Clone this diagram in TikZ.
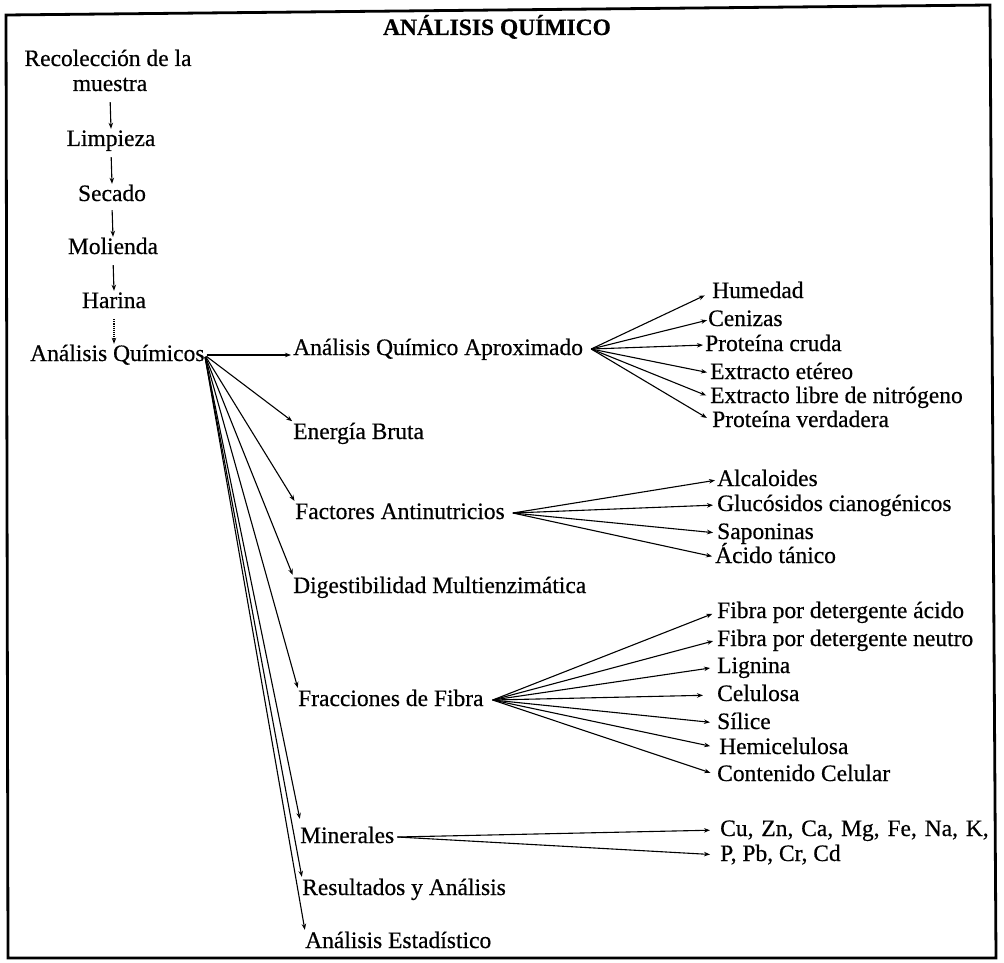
\documentclass[tikz,border=0pt]{standalone}
\usepackage{fontspec}
\setmainfont[FakeBold=0.5]{Liberation Serif}
\usetikzlibrary{arrows.meta}
\begin{document}
\begin{tikzpicture}[x=1pt,y=-1pt,
  lbl/.style={inner sep=0pt, font=\fontsize{23.5}{26}\selectfont, text height=17pt, text depth=5pt},
  item/.style={lbl, anchor=west},
  col/.style={lbl, anchor=center},
  arr/.style={line width=1.1pt, -{Stealth[length=6pt,width=4.5pt]}},
  frame/.style={line width=2.8pt, line join=miter}
]
\useasboundingbox (0,0) rectangle (1004,963);

% outer frame
\draw[frame] (6,15) -- (990,5) -- (996,958) -- (8,958) -- cycle;

% title
\node[col, font=\fontsize{23.5}{26}\selectfont\bfseries] (title) at (497,29) {ANÁLISIS QUÍMICO};

% sample preparation column
\node[col] (rec1) at (108,60) {Recolección de la};
\node[col] (rec2) at (110,85) {muestra};
\node[col] (limp) at (111,140) {Limpieza};
\node[col] (sec)  at (112,195) {Secado};
\node[col] (mol)  at (113,248) {Molienda};
\node[col] (har)  at (114,302) {Harina};
\node[item] (aq)  at (30,355) {Análisis Químicos};

\draw[arr, shorten <=6pt] (rec2.south) -- (limp.north);
\draw[arr, shorten <=6pt] (limp.south) -- (sec.north);
\draw[arr, shorten <=4pt] (sec.south) -- (mol.north);
\draw[arr, shorten <=6pt] (mol.south) -- (har.north);
\draw[arr, densely dotted, shorten <=6pt] (har.south) -- (har.south |- aq.north);

% analyses
\node[item] (aqa) at (293,349) {Análisis Químico Aproximado};
\node[item] (eb)  at (293,433) {Energía Bruta};
\node[item] (fa)  at (295,513) {Factores Antinutricios};
\node[item] (dm)  at (293,587) {Digestibilidad Multienzimática};
\node[item] (ff)  at (298,700) {Fracciones de Fibra};
\node[item] (min) at (300,837) {Minerales};
\node[item] (res) at (302,889) {Resultados y Análisis};
\node[item] (est) at (305,942) {Análisis Estadístico};

\draw[arr, shorten <=2pt, shorten >=2pt] (aq.east) -- (aq.east -| aqa.west);
\foreach \t in {eb,fa,dm,ff,res,est}
  \draw[arr, shorten <=2pt, shorten >=1pt] (aq.east) -- (\t.north west);
\draw[arr, shorten <=2pt, shorten >=1pt] (aq.east) -- ([yshift=6pt]min.north west);

% proximate analysis
\node[item] (hum) at (712,292) {Humedad};
\node[item] (cen) at (708,320) {Cenizas};
\node[item] (pc)  at (705,345) {Proteína cruda};
\node[item] (ee)  at (710,373) {Extracto etéreo};
\node[item] (el)  at (710,397) {Extracto libre de nitrógeno};
\node[item] (pv)  at (712,421) {Proteína verdadera};
\coordinate (aqaf) at ([xshift=8pt]aqa.east);
\draw[arr, shorten >=8pt] (aqaf) -- (hum.west);
\draw[arr, shorten >=1pt] (aqaf) -- (cen.west);
\draw[arr, shorten >=2pt] (aqaf) -- (pc.west);
\draw[arr, shorten >=3pt] (aqaf) -- (ee.west);
\draw[arr, shorten >=4pt] (aqaf) -- (el.west);
\draw[arr, shorten >=6pt] (aqaf) -- (pv.west);

% antinutritional factors
\node[item] (alc) at (717,480) {Alcaloides};
\node[item] (glu) at (717,505) {Glucósidos cianogénicos};
\node[item] (sap) at (717,533) {Saponinas};
\node[item] (act) at (715,557) {Ácido tánico};
\coordinate (faf) at ([xshift=8pt]fa.east);
\draw[arr, shorten >=2pt] (faf) -- (alc.west);
\draw[arr, shorten >=4pt] (faf) -- (glu.west);
\draw[arr, shorten >=4pt] (faf) -- (sap.west);
\draw[arr, shorten >=3pt] (faf) -- (act.west);

% fibre fractions
\node[item] (fda) at (717,612) {Fibra por detergente ácido};
\node[item] (fdn) at (717,640) {Fibra por detergente neutro};
\node[item] (lig) at (717,667) {Lignina};
\node[item] (cel) at (717,695) {Celulosa};
\node[item] (sil) at (717,723) {Sílice};
\node[item] (hem) at (719,748) {Hemicelulosa};
\node[item] (cc)  at (717,775) {Contenido Celular};
\coordinate (fff) at ([xshift=9pt]ff.east);
\draw[arr, shorten >=5pt] (fff) -- (fda.west);
\draw[arr, shorten >=4pt] (fff) -- (fdn.west);
\draw[arr, shorten >=7pt] (fff) -- (lig.west);
\draw[arr, shorten >=14pt] (fff) -- (cel.west);
\draw[arr, shorten >=7pt] (fff) -- (sil.west);
\draw[arr, shorten >=9pt] (fff) -- (hem.west);
\draw[arr, shorten >=7pt] (fff) -- (cc.west);

% minerals
\node[item] (cu) at (720,830) {Cu,\hspace{2pt} Zn,\hspace{2pt} Ca,\hspace{2pt} Mg,\hspace{2pt} Fe,\hspace{2pt} Na,\hspace{2pt} K,};
\node[item] (pb) at (720,855) {P, Pb, Cr, Cd};
\coordinate (minf) at ([xshift=3pt]min.east);
\draw[arr, shorten >=10pt] (minf) -- (cu.west);
\draw[arr, shorten >=10pt] (minf) -- (pb.west);
\end{tikzpicture}
\end{document}
